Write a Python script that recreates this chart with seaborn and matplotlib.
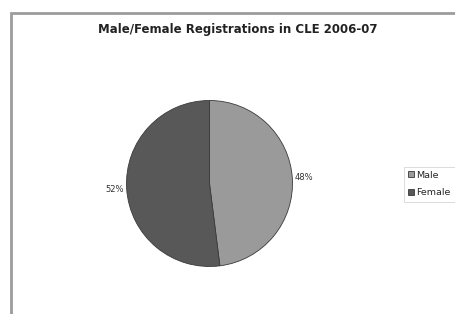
import matplotlib
matplotlib.use("Agg")
import matplotlib.pyplot as plt
import seaborn as sns
from matplotlib.patches import Rectangle

categories = ["Male", "Female"]
shares = [48, 52]
colours = ["#9a9a9a", "#585858"]

sns.set_theme(style="white")
plt.rcParams['font.family'] = ['DejaVu Sans']

fig = plt.figure(figsize=(4.56, 3.14), dpi=100)
fig.patch.set_facecolor("white")

# outer chart frame, clipped at right and bottom
fig.patches.append(Rectangle((11 / 456, -0.1), 1.2, (314 - 13) / 314 + 0.1,
                             transform=fig.transFigure, fill=False,
                             edgecolor="#9c9c9c", linewidth=2))

ax = fig.add_axes([0.2774, 0.1513, 0.364, 0.5287])
wedges, texts, autotexts = ax.pie(
    shares, colors=colours, startangle=90, counterclock=False,
    autopct="%d%%", pctdistance=1.14, radius=1.0,
    wedgeprops=dict(edgecolor="#3a3a3a", linewidth=0.6),
    textprops=dict(fontsize=6, color="#333333"))
ax.set_xlim(-1.0, 1.0)
ax.set_ylim(-1.0, 1.0)
ax.set_aspect("equal")

fig.text(238 / 456, 1 - 29 / 314, "Male/Female Registrations in CLE 2006-07",
         ha="center", va="center", fontsize=8.5, fontweight="bold", color="#222222")

leg = fig.legend(wedges, categories, loc="center left",
                 bbox_to_anchor=(404 / 456, 1 - 184 / 314),
                 fontsize=6.8, frameon=True, fancybox=False, handlelength=0.6,
                 handleheight=0.6, handletextpad=0.25, borderpad=0.45,
                 labelspacing=0.9, borderaxespad=0)
leg.get_frame().set_edgecolor("#cccccc")
leg.get_frame().set_linewidth(0.6)

fig.savefig("out.png", dpi=100)
